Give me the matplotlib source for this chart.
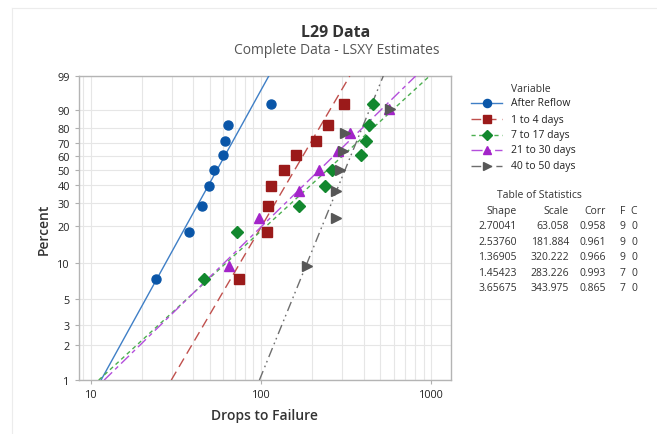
import numpy as np
import matplotlib
matplotlib.use("Agg")
import matplotlib.pyplot as plt
from matplotlib.lines import Line2D

plt.rcParams["font.family"] = ["Open Sans", "DejaVu Sans"]

# series names and Weibull fit results (Table of Statistics)
names = ["After Reflow", "1 to 4 days", "7 to 17 days", "21 to 30 days", "40 to 50 days"]
shape = [2.70041, 2.53760, 1.36905, 1.45423, 3.65675]
scale = [63.058, 181.884, 320.222, 283.226, 343.975]
corr = [0.958, 0.961, 0.966, 0.993, 0.865]
n_fail = [9, 9, 9, 7, 7]
n_cens = [0, 0, 0, 0, 0]

# plotted points (drops to failure, percent)
pct9 = [7.4, 18.1, 28.7, 39.4, 50.0, 60.6, 71.3, 81.9, 92.6]
pct7 = [9.5, 23.0, 36.5, 50.0, 63.5, 77.0, 90.5]
x_reflow = [24, 37.5, 45, 49.5, 53, 60, 61, 64, 115]
x_1to4 = [74, 109, 110.5, 115, 136, 161, 209, 247, 306]
x_7to17 = [46.5, 72, 167, 239, 261, 388, 416, 431, 457]
x_21to30 = [64.5, 97, 166, 220, 283, 331, 561]
x_40to50 = [186, 275, 276, 289, 302, 312, 575]
xs = [x_reflow, x_1to4, x_7to17, x_21to30, x_40to50]
ys = [pct9, pct9, pct9, pct7, pct7]

mcol = ["#0a56a8", "#9b1a1a", "#12882e", "#a324c9", "#575757"]
lcol = ["#3f7fc6", "#c0504d", "#4caf50", "#b44fdc", "#6e6e6e"]
markers = ["o", "s", "D", "^", ">"]
msize = [6.5, 7, 6, 7, 7]
dashes = [None, (7, 4), (3, 2.5), (8, 3, 3, 3), (7, 3, 1.2, 2.5, 1.2, 3)]


def fwd(p):
    p = np.clip(np.asarray(p, dtype=float), 1e-6, 100 - 1e-6)
    return np.log(-np.log(1 - p / 100.0))


def inv(y):
    return 100.0 * (1 - np.exp(-np.exp(y)))


fig = plt.figure(figsize=(6.57, 4.35), dpi=100)
ax = fig.add_axes([0.120, 0.124, 0.566, 0.699])

ends = np.array([1.0, 99.0])
for i in range(len(names)):
    xl = scale[i] * (-np.log(1 - ends / 100.0)) ** (1.0 / shape[i])
    ln, = ax.plot(xl, ends, color=lcol[i], lw=1.0, zorder=3)
    if dashes[i] is not None:
        ln.set_dashes(dashes[i])
    ax.plot(xs[i], ys[i], ls="none", marker=markers[i], ms=msize[i],
            color=mcol[i], mec=mcol[i], zorder=4)

ax.set_xscale("log")
ax.set_yscale("function", functions=(fwd, inv))

yt = [1, 2, 3, 5, 10, 20, 30, 40, 50, 60, 70, 80, 90, 99]
ax.set_yticks(yt)
ax.set_yticklabels([str(v) for v in yt])
ax.set_xticks([10, 100, 1000])
ax.set_xticklabels(["10", "100", "1000"])
minor = [9] + [v * d for d in (10, 100) for v in range(2, 10)]
ax.set_xticks(minor, minor=True)
ax.set_xticklabels([], minor=True)
ax.set_xlim(8.5, 1300)
ax.set_ylim(1, 99)
ax.tick_params(axis="x", which="minor", length=0)
ax.tick_params(axis="both", which="major", labelsize=7.8, colors="#b0b0b0",
               labelcolor="#222222", length=3, width=0.8)
ax.grid(True, which="both", axis="x", color="#e6e6e6", lw=0.8)
ax.grid(True, which="major", axis="y", color="#e6e6e6", lw=0.8)
ax.set_axisbelow(True)
for s in ax.spines.values():
    s.set_color("#b4b4b4")
    s.set_linewidth(1.0)

ax.set_xlabel("Drops to Failure", fontsize=10, color="#333333", labelpad=6,
              fontweight="semibold")
ax.set_ylabel("Percent", fontsize=10, color="#333333", labelpad=5,
              fontweight="semibold")

fig.text(336 / 657, 1 - 33 / 435, "L29 Data", ha="center", va="center",
         fontsize=11.5, fontweight="bold", color="#333333")
fig.text(337 / 657, 1 - 50 / 435, "Complete Data - LSXY Estimates",
         ha="center", va="center", fontsize=10, color="#555555")

# faint graph frame
fig.add_artist(Line2D([12 / 657, 12 / 657], [0, 1 - 9 / 435],
                      transform=fig.transFigure, color="#ececec", lw=0.8))
fig.add_artist(Line2D([12 / 657, 1], [1 - 9 / 435, 1 - 9 / 435],
                      transform=fig.transFigure, color="#ececec", lw=0.8))

# legend
W, H = 657.0, 435.0
fig.text(511 / W, 1 - 90 / H, "Variable", ha="left", va="center",
         fontsize=7.5, color="#333333")
rows = [104, 120, 135.5, 151, 166.5]
for i in range(len(names)):
    yy = 1 - rows[i] / H
    lg = Line2D([471 / W, 502 / W], [yy, yy], transform=fig.transFigure,
                color=lcol[i], lw=1.0)
    if dashes[i] is not None:
        lg.set_dashes(dashes[i])
    fig.add_artist(lg)
    fig.add_artist(Line2D([487 / W], [yy], transform=fig.transFigure,
                          ls="none", marker=markers[i], ms=msize[i] * 0.9,
                          color=mcol[i]))
    fig.text(511 / W, yy, names[i], ha="left", va="center", fontsize=7.5,
             color="#222222")

# table of statistics
fig.text(539 / W, 1 - 196 / H, "Table of Statistics", ha="center",
         va="center", fontsize=7.5, color="#333333")
col_r = [517, 569, 606, 625, 637]
heads = ["Shape", "Scale", "Corr", "F", "C"]
for x, h in zip(col_r, heads):
    fig.text(x / W, 1 - 212 / H, h, ha="right", va="center", fontsize=7.5,
             color="#333333")
trows = [227, 242.5, 258, 273, 288.5]
for i in range(len(names)):
    vals = ["%.5f" % shape[i], "%.3f" % scale[i], "%.3f" % corr[i],
            str(n_fail[i]), str(n_cens[i])]
    for x, v in zip(col_r, vals):
        fig.text(x / W, 1 - trows[i] / H, v, ha="right", va="center",
                 fontsize=7.5, color="#333333")

fig.savefig("out.png", dpi=100)
